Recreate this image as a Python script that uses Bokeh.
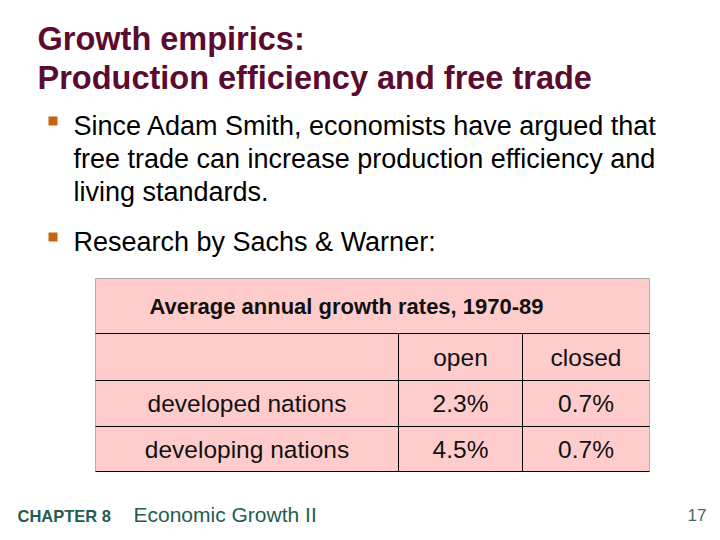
from bokeh.plotting import figure
from bokeh.models import Range1d
from bokeh.core.properties import value
from bokeh.embed import file_html
from bokeh.resources import INLINE

# ---- data ----
slide_title = ["Growth empirics:", "Production efficiency and free trade"]
bullet1 = ["Since Adam Smith, economists have argued that",
           "free trade can increase production efficiency and",
           "living standards."]
bullet2 = ["Research by Sachs & Warner:"]
table_title = "Average annual growth rates, 1970-89"
col_labels = ["open", "closed"]
row_labels = ["developed nations", "developing nations"]
open_rates = [2.3, 4.5]
closed_rates = [0.7, 0.7]
footer_chapter = "CHAPTER 8"
footer_title = "Economic Growth II"
page_number = "17"

W, H = 712, 532
OFF = 0

def X(px):
    return px - OFF

def Y(py):
    return py - OFF

p = figure(width=W, height=H, output_backend="svg", toolbar_location=None,
           x_range=Range1d(0, W), y_range=Range1d(H, 0),
           min_border=0, outline_line_color=None)
p.axis.visible = False
p.grid.visible = False
p.background_fill_color = "white"
p.border_fill_color = "white"

TITLE_C = "#5C0B30"
FOOT_C = "#245B50"
BUL_C = "#C8640E"
FONT = value("Liberation Sans")
BODY = "27px"
CELL = "24.5px"

# title
p.text(x=[X(37)] * 2, y=[Y(38), Y(77)], text=slide_title,
       text_font=FONT, text_font_style="bold",
       text_font_size="32.5px", text_color=TITLE_C,
       text_baseline="middle", text_align="left")

# bullets
p.rect(x=[X(52.5), X(52.5)], y=[Y(120.5), Y(236.5)], width=9, height=9,
       fill_color=BUL_C, line_color=None)
p.text(x=[X(73)] * 3, y=[Y(125), Y(158), Y(191)], text=bullet1,
       text_font=FONT, text_font_size=BODY,
       text_color="black", text_baseline="middle", text_align="left")
p.text(x=[X(73)], y=[Y(241)], text=bullet2,
       text_font=FONT, text_font_size=BODY,
       text_color="black", text_baseline="middle", text_align="left")

# table layout
tl, tr = 95, 649
c1, c2 = 398, 522
r0, r1, r2, r3, r4 = 278, 333, 380, 426, 471
p.quad(left=[X(tl)], right=[X(tr)], top=[Y(r0)], bottom=[Y(r4)],
       fill_color="#FFCCCC", line_color="#B0B0B0", line_width=1)
p.segment(x0=[X(tl)] * 4, x1=[X(tr)] * 4, y0=[Y(r1), Y(r2), Y(r3), Y(r4)],
          y1=[Y(r1), Y(r2), Y(r3), Y(r4)], line_color="black", line_width=1)
p.segment(x0=[X(c1), X(c2)], x1=[X(c1), X(c2)], y0=[Y(r1)] * 2, y1=[Y(r4)] * 2,
          line_color="black", line_width=1)

p.text(x=[X(346)], y=[Y((r0 + r1) / 2)], text=[table_title],
       text_font=FONT, text_font_style="bold",
       text_font_size="22px", text_color="#111111",
       text_baseline="middle", text_align="center")

col_x = [X((c1 + c2) / 2), X((c2 + tr) / 2)]
p.text(x=col_x, y=[Y((r1 + r2) / 2)] * 2, text=col_labels,
       text_font=FONT, text_font_size=CELL,
       text_color="#111111", text_baseline="middle", text_align="center")

row_y = [Y((r2 + r3) / 2), Y((r3 + r4) / 2)]
p.text(x=[X((tl + c1) / 2)] * 2, y=row_y, text=row_labels,
       text_font=FONT, text_font_size=CELL,
       text_color="#111111", text_baseline="middle", text_align="center")
p.text(x=[col_x[0]] * 2, y=row_y, text=[f"{v:.1f}%" for v in open_rates],
       text_font=FONT, text_font_size=CELL,
       text_color="#111111", text_baseline="middle", text_align="center")
p.text(x=[col_x[1]] * 2, y=row_y, text=[f"{v:.1f}%" for v in closed_rates],
       text_font=FONT, text_font_size=CELL,
       text_color="#111111", text_baseline="middle", text_align="center")

# footer
p.text(x=[X(17)], y=[Y(515)], text=[footer_chapter],
       text_font=FONT, text_font_style="bold",
       text_font_size="16.5px", text_color=FOOT_C,
       text_baseline="middle", text_align="left")
p.text(x=[X(133)], y=[Y(514)], text=[footer_title],
       text_font=FONT, text_font_size="21px",
       text_color=FOOT_C, text_baseline="middle", text_align="left")
p.text(x=[X(706)], y=[Y(514)], text=[page_number],
       text_font=FONT, text_font_size="17px",
       text_color="#3F6B62", text_baseline="middle", text_align="right")

open("out.html", "w").write(file_html(p, INLINE))
